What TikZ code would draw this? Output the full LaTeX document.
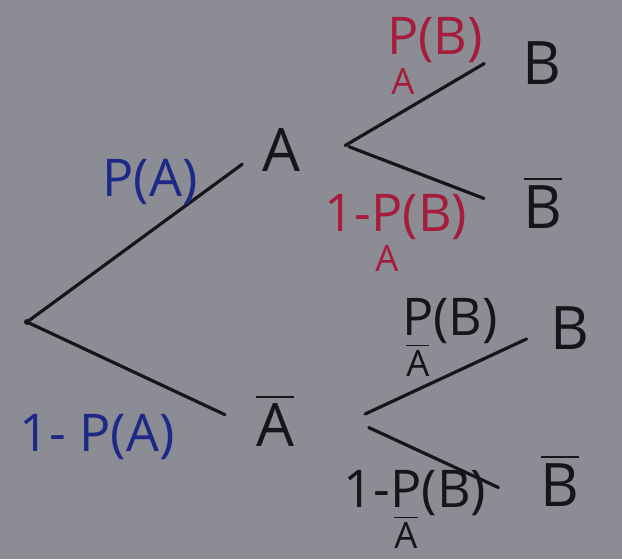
\documentclass[tikz,border=0pt]{standalone}
\usepackage{amsmath}
\usepackage{fontspec}
\setmainfont{Open Sans}

\definecolor{paper}{RGB}{140,140,148}
\definecolor{ink}{RGB}{22,22,26}
\definecolor{bluink}{RGB}{30,40,135}
\definecolor{redink}{RGB}{165,28,60}

\newcommand{\cond}[2]{\ensuremath{\underset{\text{\raisebox{-5pt}{#2}}}{\text{#1}}}}
\newcommand{\nicht}[1]{\ensuremath{\overline{\text{#1}}}}

\begin{document}
\begin{tikzpicture}[x=0.5pt, y=-0.5pt, line cap=round,
  event/.style={text=ink, font=\fontsize{30}{34}\selectfont, inner sep=0pt},
  prob/.style={font=\fontsize{26}{30}\selectfont, inner sep=0pt},
  branch/.style={ink, line width=1.6pt}]
  \fill[paper] (0,0) rectangle (622,559);
  \useasboundingbox (0,0) rectangle (622,559);
  % first stage: A or not A
  \coordinate (root) at (27,322);
  \fill[ink] (root) circle (1.5pt);
  \node[event] (A) at (281,150) {A};
  \node[event] (Ab) at (275,420) {\nicht{A}};
  \draw[branch, shorten >=12pt] (root) -- (A.west);
  \draw[branch, shorten >=17pt] (root) -- (Ab.205);
  \node[prob, text=bluink] (pA) at (150,182) {P(A)};
  \node[prob, text=bluink] (qA) at (97,437) {1- P(A)};
  % second stage after A
  \node[event] (B1) at (542,63) {B};
  \node[event] (B1b) at (543,202) {\nicht{B}};
  \draw[branch, shorten <=26pt, shorten >=22pt] (A.south east) -- (B1.north west);
  \draw[branch, shorten <=26pt, shorten >=21pt] (A.north east) -- (B1b.210);
  \node[prob, text=redink] (pBA) at (435,58) {\cond{P}{A}(B)};
  \node[prob, text=redink] (qBA) at (396,235) {1-\cond{P}{A}(B)};
  % second stage after not A
  \node[event] (B2) at (570,328) {B};
  \node[event] (B2b) at (560,480) {\nicht{B}};
  \draw[branch, shorten <=39pt, shorten >=13pt] (Ab.south east) -- (B2.west);
  \draw[branch, shorten <=41pt, shorten >=23pt] (Ab.north east) -- (B2b.south west);
  \node[prob, text=ink] (pBAb) at (450,340) {\cond{P}{\nicht{A}}(B)};
  \node[prob, text=ink] (qBAb) at (415,512) {1-\cond{P}{\nicht{A}}(B)};
\end{tikzpicture}
\end{document}
